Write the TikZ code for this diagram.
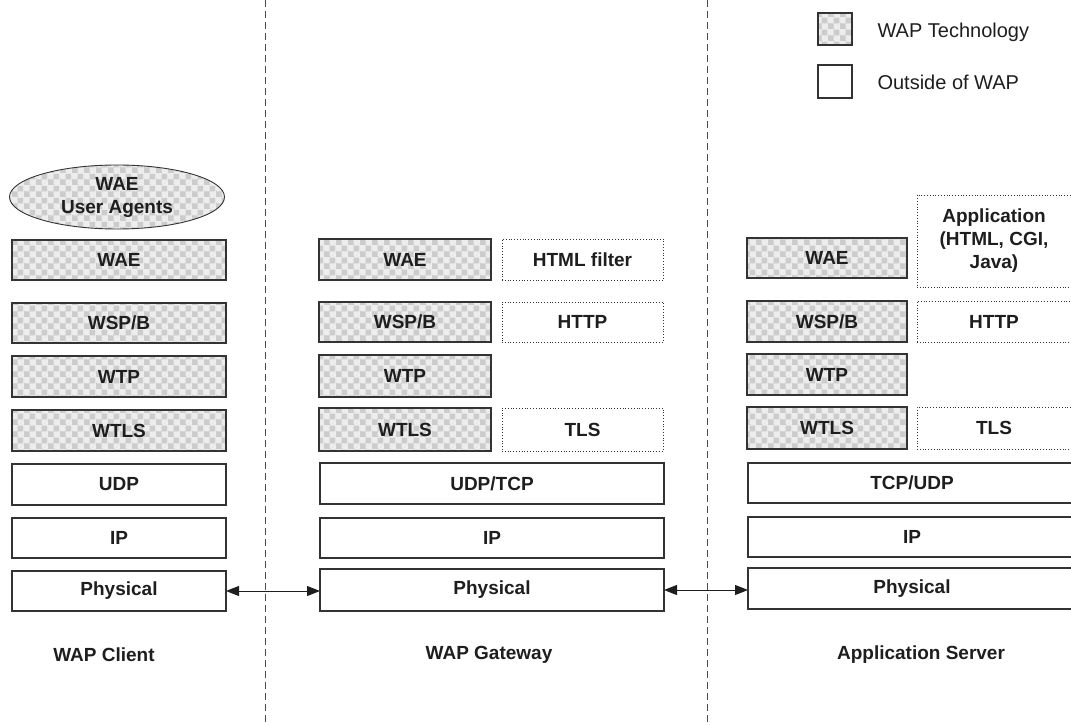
\documentclass[tikz,border=0pt]{standalone}
\usepackage{fontspec}
\setmainfont{Liberation Sans}
\usetikzlibrary{arrows.meta,shapes.geometric,patterns}
\definecolor{edge}{HTML}{333333}
\definecolor{ink}{HTML}{1E1E1E}
\pgfdeclarepatternformonly{wapcheck}{\pgfqpoint{0pt}{0pt}}{\pgfqpoint{12pt}{12pt}}{\pgfqpoint{12pt}{12pt}}{%
  \pgfpathrectangle{\pgfqpoint{0pt}{0pt}}{\pgfqpoint{6pt}{6pt}}%
  \pgfpathrectangle{\pgfqpoint{6pt}{6pt}}{\pgfqpoint{6pt}{6pt}}%
  \pgfusepath{fill}%
  \pgfpathcircle{\pgfqpoint{6pt}{0pt}}{1.1pt}%
  \pgfpathcircle{\pgfqpoint{0pt}{6pt}}{1.1pt}%
  \pgfusepath{fill}%
}
\tikzset{
  base/.style={text=ink, font=\fontsize{19}{23}\selectfont\bfseries, inner sep=0pt, outer sep=0pt},
  wap/.style={base, draw=edge, line width=1.1pt,
     preaction={fill=black!7},
     preaction={pattern=wapcheck, pattern color=black!20}},
  plain/.style={base, draw=edge, line width=1.1pt, fill=white},
  outside/.style={base, draw=edge, line width=0.8pt, dotted, fill=white},
  sep/.style={draw=black!70, line width=0.8pt, dash pattern=on 7pt off 4pt},
  link/.style={draw=ink, line width=1pt, {Triangle[length=13pt,width=10pt]}-{Triangle[length=13pt,width=10pt]}},
  caption/.style={text=ink, font=\fontsize{19}{23}\selectfont\bfseries},
  legtext/.style={text=ink, font=\fontsize{20}{24}\selectfont, anchor=west}
}
\newcommand\layer[7]{%
  \node[#2, minimum width={#5pt-#3pt}, minimum height={#6pt-#4pt}, align=center]
    (#1) at ({(#3+#5)/2},{(#4+#6)/2}) {#7};}
\begin{document}
\begin{tikzpicture}[x=1pt,y=-1pt]
\useasboundingbox (0,0) rectangle (1071,725);
% separators
\coordinate (s1a) at (265,0); \coordinate (s1b) at (265,725);
\coordinate (s2a) at (707,0); \coordinate (s2b) at (707,725);
\draw[sep] (s1a) -- (s1b);
\draw[sep] (s2a) -- (s2b);
% legend
\layer{legw}{wap}{818}{13}{852}{45}{}
\layer{lego}{plain}{818}{65}{852}{98}{}
\node[legtext] (legwt) at (874,32) {WAP Technology};
\node[legtext] (legot) at (874,82) {Outside of WAP};
% client
\node[wap, ellipse, minimum width=215pt, minimum height=64pt, align=center, line width=0.9pt] (cua) at (117,197) {WAE\\User Agents};
\layer{cwae}{wap}{12}{240}{226}{280}{WAE}
\layer{cwsp}{wap}{12}{303}{226}{343}{WSP/B}
\layer{cwtp}{wap}{12}{356}{226}{397}{WTP}
\layer{cwtls}{wap}{12}{410}{226}{451}{WTLS}
\layer{cudp}{plain}{12}{464}{226}{505}{UDP}
\layer{cip}{plain}{12}{518}{226}{558}{IP}
\layer{cphy}{plain}{12}{571}{226}{611}{Physical}
\node[caption] (ccap) at (104,655) {WAP Client};
% gateway
\layer{gwae}{wap}{319}{239}{491}{280}{WAE}
\layer{ghtml}{outside}{502}{239}{663}{280}{HTML filter}
\layer{gwsp}{wap}{319}{302}{491}{342}{WSP/B}
\layer{ghttp}{outside}{502}{302}{663}{342}{HTTP}
\layer{gwtp}{wap}{319}{355}{491}{397}{WTP}
\layer{gwtls}{wap}{319}{408}{491}{451}{WTLS}
\layer{gtls}{outside}{502}{408}{663}{451}{TLS}
\layer{gudp}{plain}{320}{463}{664}{504}{UDP/TCP}
\layer{gip}{plain}{320}{518}{664}{558}{IP}
\layer{gphy}{plain}{320}{569}{664}{611}{Physical}
\node[caption] (gcap) at (489,655) {WAP Gateway};
% server
\layer{swae}{wap}{747}{238}{907}{278}{WAE}
\layer{sapp}{outside}{917}{195}{1071}{287}{Application\\(HTML, CGI,\\Java)}
\layer{swsp}{wap}{747}{301}{907}{342}{WSP/B}
\layer{shttp}{outside}{917}{301}{1071}{342}{HTTP}
\layer{swtp}{wap}{747}{354}{907}{395}{WTP}
\layer{swtls}{wap}{747}{407}{907}{449}{WTLS}
\layer{stls}{outside}{917}{407}{1071}{449}{TLS}
\layer{stcp}{plain}{748}{463}{1076}{503}{TCP/UDP}
\layer{sip}{plain}{748}{517}{1076}{557}{IP}
\layer{sphy}{plain}{748}{568}{1076}{609}{Physical}
\node[caption] (scap) at (921,655) {Application Server};
% links
\draw[link] (cphy.east) -- (cphy.east -| gphy.west);
\draw[link] (gphy.east) -- (gphy.east -| sphy.west);
\end{tikzpicture}
\end{document}
